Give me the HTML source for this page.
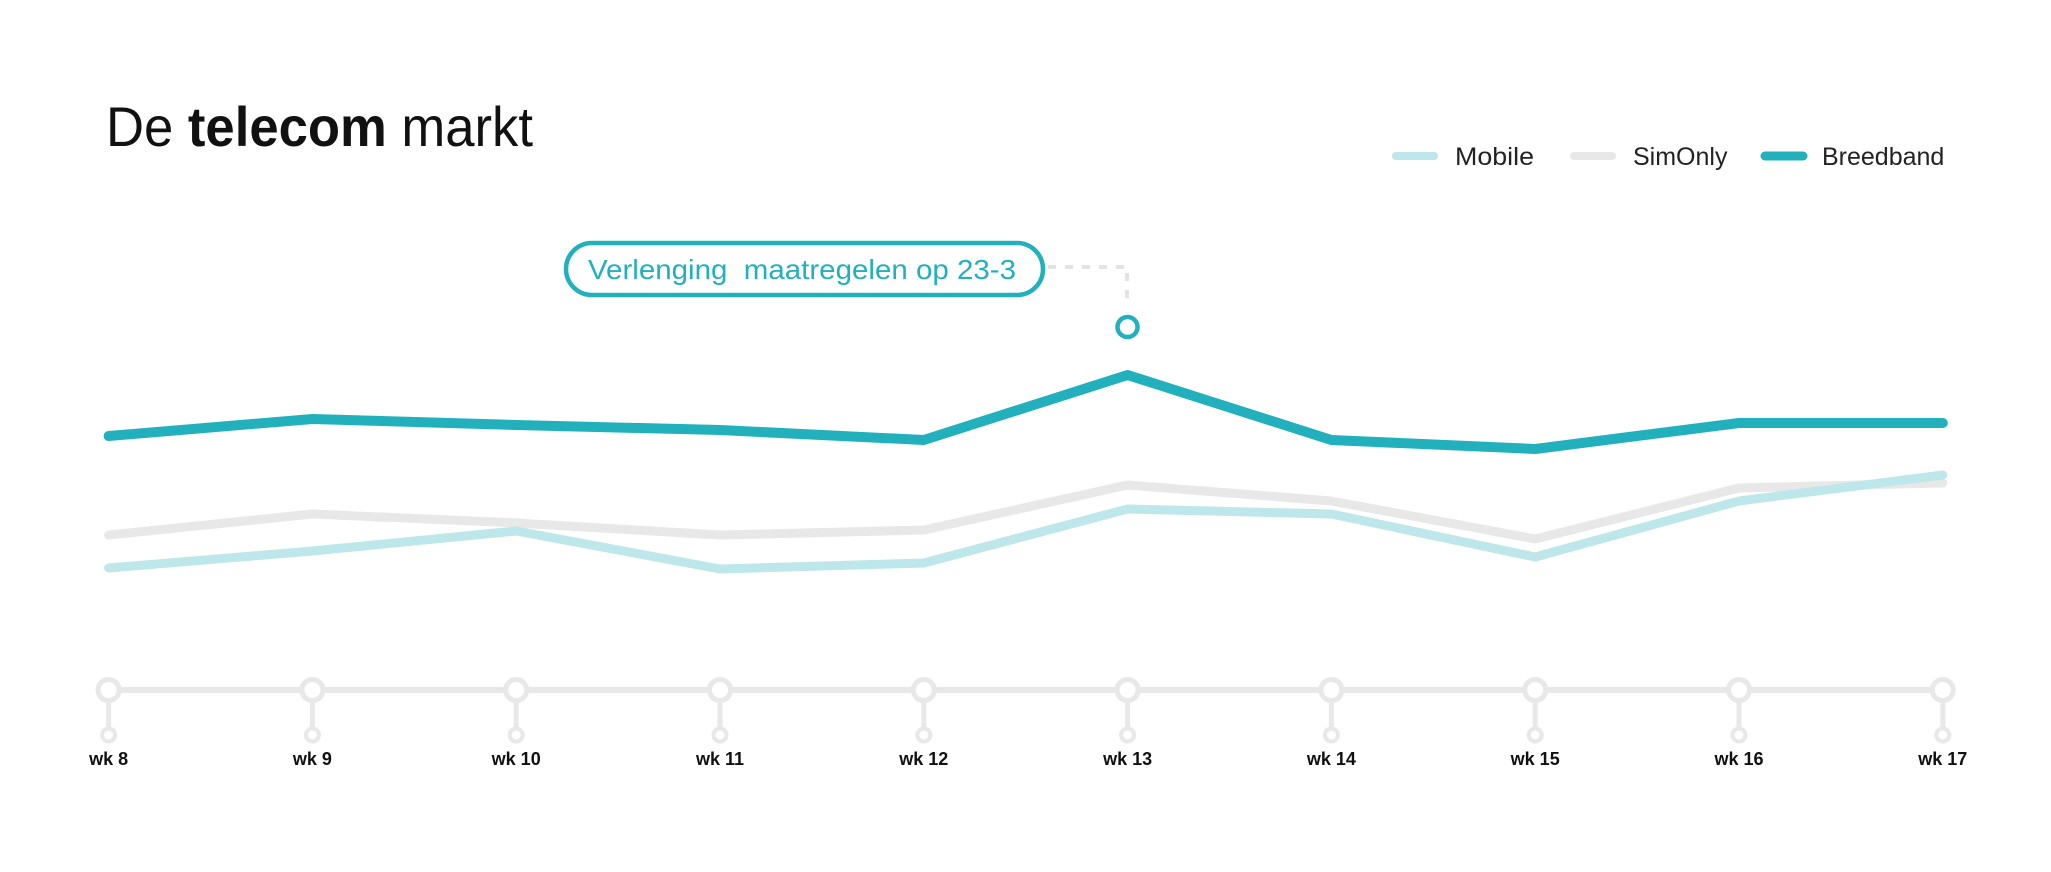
<!DOCTYPE html>
<html><head><meta charset="utf-8"><style>
html,body{margin:0;padding:0;background:#fff;}
svg{display:block;font-family:"Liberation Sans",sans-serif;}
</style></head><body>
<svg id="chart" width="2051" height="872" viewBox="0 0 2051 872">
<text x="106" y="146" font-size="56" fill="#111" textLength="427" lengthAdjust="spacingAndGlyphs">De <tspan font-weight="bold">telecom</tspan> markt</text>
<g>
<line x1="1396" y1="156" x2="1434" y2="156" stroke="#bde7ea" stroke-width="8" stroke-linecap="round"/>
<text x="1455" y="165" font-size="25" fill="#222" textLength="79" lengthAdjust="spacingAndGlyphs">Mobile</text>
<line x1="1574" y1="156" x2="1612" y2="156" stroke="#e8e8e8" stroke-width="8" stroke-linecap="round"/>
<text x="1633" y="165" font-size="25" fill="#222">SimOnly</text>
<line x1="1765" y1="156" x2="1803" y2="156" stroke="#22b0bd" stroke-width="9" stroke-linecap="round"/>
<text x="1822" y="165" font-size="25" fill="#222">Breedband</text>
</g>
<g id="axis"></g>
<g id="series"></g>
<g>
<rect x="566" y="243" width="477" height="52" rx="26" fill="#fff" stroke="#22b0bd" stroke-width="4.5"/>
<text x="588" y="279" font-size="28" fill="#22b0bd" textLength="428" lengthAdjust="spacingAndGlyphs" xml:space="preserve">Verlenging  maatregelen op 23-3</text>
<polyline points="1048,267 1127,267 1127,306" fill="none" stroke="#e3e3e3" stroke-width="4" stroke-dasharray="8,9"/>
<circle cx="1127.5" cy="327" r="10" fill="#fff" stroke="#22b0bd" stroke-width="4.5"/>
</g>
</svg>
<script>
const categories=["wk 8","wk 9","wk 10","wk 11","wk 12","wk 13","wk 14","wk 15","wk 16","wk 17"];
const mobile=[132,149,169,131,137,191,186,143,199,225];
const simonly=[165,186,177,165,170,215,199,161,212,217];
const breedband=[264,281,275,270,260,325,260,251,277,277];
const NS="http://www.w3.org/2000/svg";
function xScale(i){return 108.6+i*203.8;}
function yScale(v){return 700-v;}
const axis=document.getElementById('axis');
const ser=document.getElementById('series');
function mk(t,a,p){const e=document.createElementNS(NS,t);for(const k in a)e.setAttribute(k,a[k]);p.appendChild(e);return e;}
const base=mk('line',{x1:xScale(0),y1:690,x2:xScale(categories.length-1),y2:690,stroke:'#e8e8e8','stroke-width':6},axis);


categories.forEach((c,i)=>{
  const x=xScale(i);
  const st=mk('line',{x1:x,y1:690,x2:x,y2:735,stroke:'#e8e8e8','stroke-width':5},axis);
  
  
  const c1=mk('circle',{cx:x,cy:690,r:10.5,fill:'#fff',stroke:'#e8e8e8','stroke-width':5},axis);
  
  
  const c2=mk('circle',{cx:x,cy:735,r:6.5,fill:'#fff',stroke:'#e8e8e8','stroke-width':4},axis);
  
  
  const t=mk('text',{x:x,y:765,'font-size':18,'font-weight':'bold','text-anchor':'middle',fill:'#111'},axis);
  t.textContent=c;
  
  
});
function line(vals,color,w,name){
  const pts=vals.map((v,i)=>xScale(i)+','+yScale(v)).join(' ');
  const p=mk('polyline',{points:pts,fill:'none',stroke:color,'stroke-width':w,'stroke-linejoin':'round','stroke-linecap':'round'},ser);
  
  
}
line(simonly,'#e8e8e8',9,'line-simonly');
line(mobile,'#bde7ea',9,'line-mobile');
line(breedband,'#22b0bd',10,'line-breedband');
</script>
</body></html>
